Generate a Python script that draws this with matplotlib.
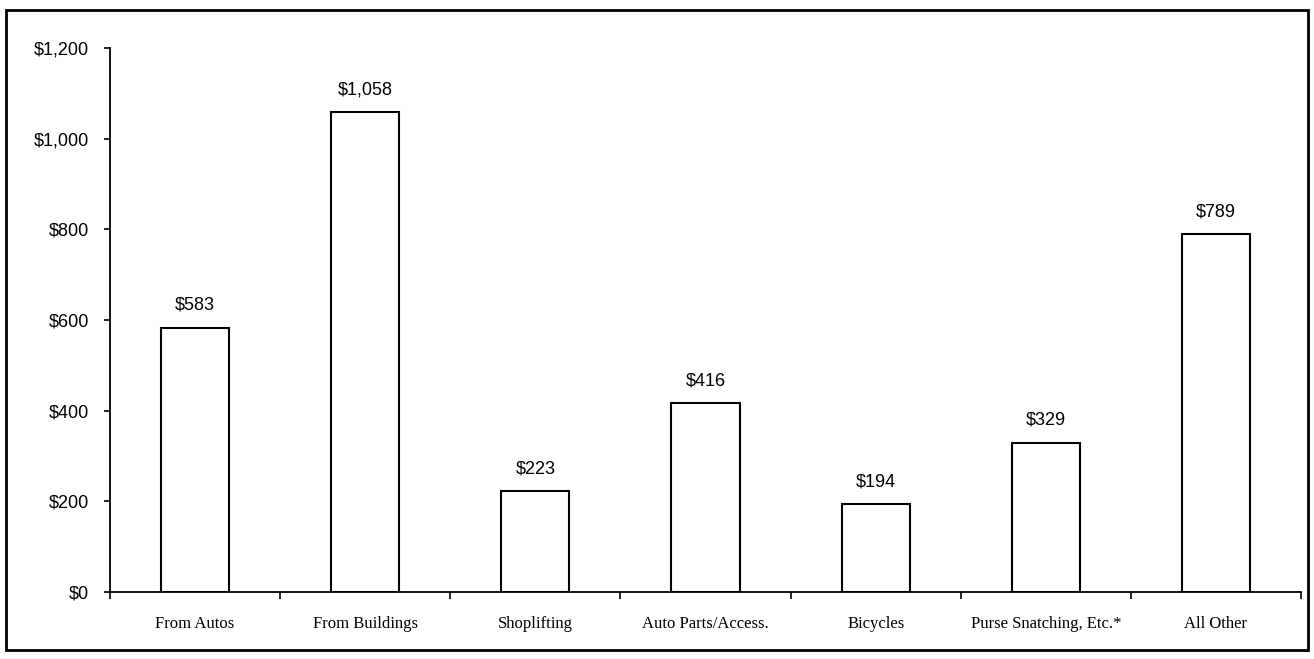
#!/usr/bin/env python3
"""Average value of property stolen, by type of larceny."""

import matplotlib

matplotlib.use("Agg")
import matplotlib.pyplot as plt
import numpy as np
from matplotlib.patches import Rectangle
from matplotlib.ticker import FuncFormatter

categories = ["From Autos", "From Buildings", "Shoplifting", "Auto Parts/Access.",
              "Bicycles", "Purse Snatching, Etc.*", "All Other"]
values = [583, 1058, 223, 416, 194, 329, 789]
yticks = [0, 200, 400, 600, 800, 1000, 1200]

fig = plt.figure(figsize=(13.14, 6.59), dpi=100)
ax = fig.add_axes([110 / 1314, 67 / 659, 1191 / 1314, 544 / 659])

x = np.arange(len(categories))
ax.bar(x, values, width=0.4, color="white", edgecolor="black", linewidth=1.5, zorder=2)

for xi, v in zip(x, values):
    ax.annotate(f"${v:,}", (xi, v), xytext=(0, 10), textcoords="offset points",
                ha="center", va="bottom", fontsize=13, family="Liberation Sans")

ax.set_xlim(-0.5, len(categories) - 0.5)
ax.set_ylim(0, 1200)
ax.set_yticks(yticks)
ax.yaxis.set_major_formatter(FuncFormatter(lambda v, _: f"${v:,.0f}"))
for lab in ax.get_yticklabels():
    lab.set_family("Liberation Sans")
    lab.set_fontsize(13)
ax.tick_params(axis="y", direction="out", length=4, width=1.2, pad=11)

# category boundaries as major ticks, names on minor ticks
ax.set_xticks(np.arange(-0.5, len(categories), 1.0))
ax.set_xticklabels([])
ax.set_xticks(x, minor=True)
ax.set_xticklabels(categories, minor=True, family="Liberation Serif", fontsize=12)
ax.tick_params(axis="x", which="major", direction="out", length=5, width=1.2)
ax.tick_params(axis="x", which="minor", length=0, pad=17)

for side in ("top", "right"):
    ax.spines[side].set_visible(False)
for side in ("left", "bottom"):
    ax.spines[side].set_linewidth(1.3)

fig.patches.append(Rectangle((6 / 1314, 9 / 659), 1302 / 1314, 640 / 659,
                             transform=fig.transFigure, fill=False,
                             edgecolor="black", linewidth=2))

fig.savefig("out.png", dpi=100)
